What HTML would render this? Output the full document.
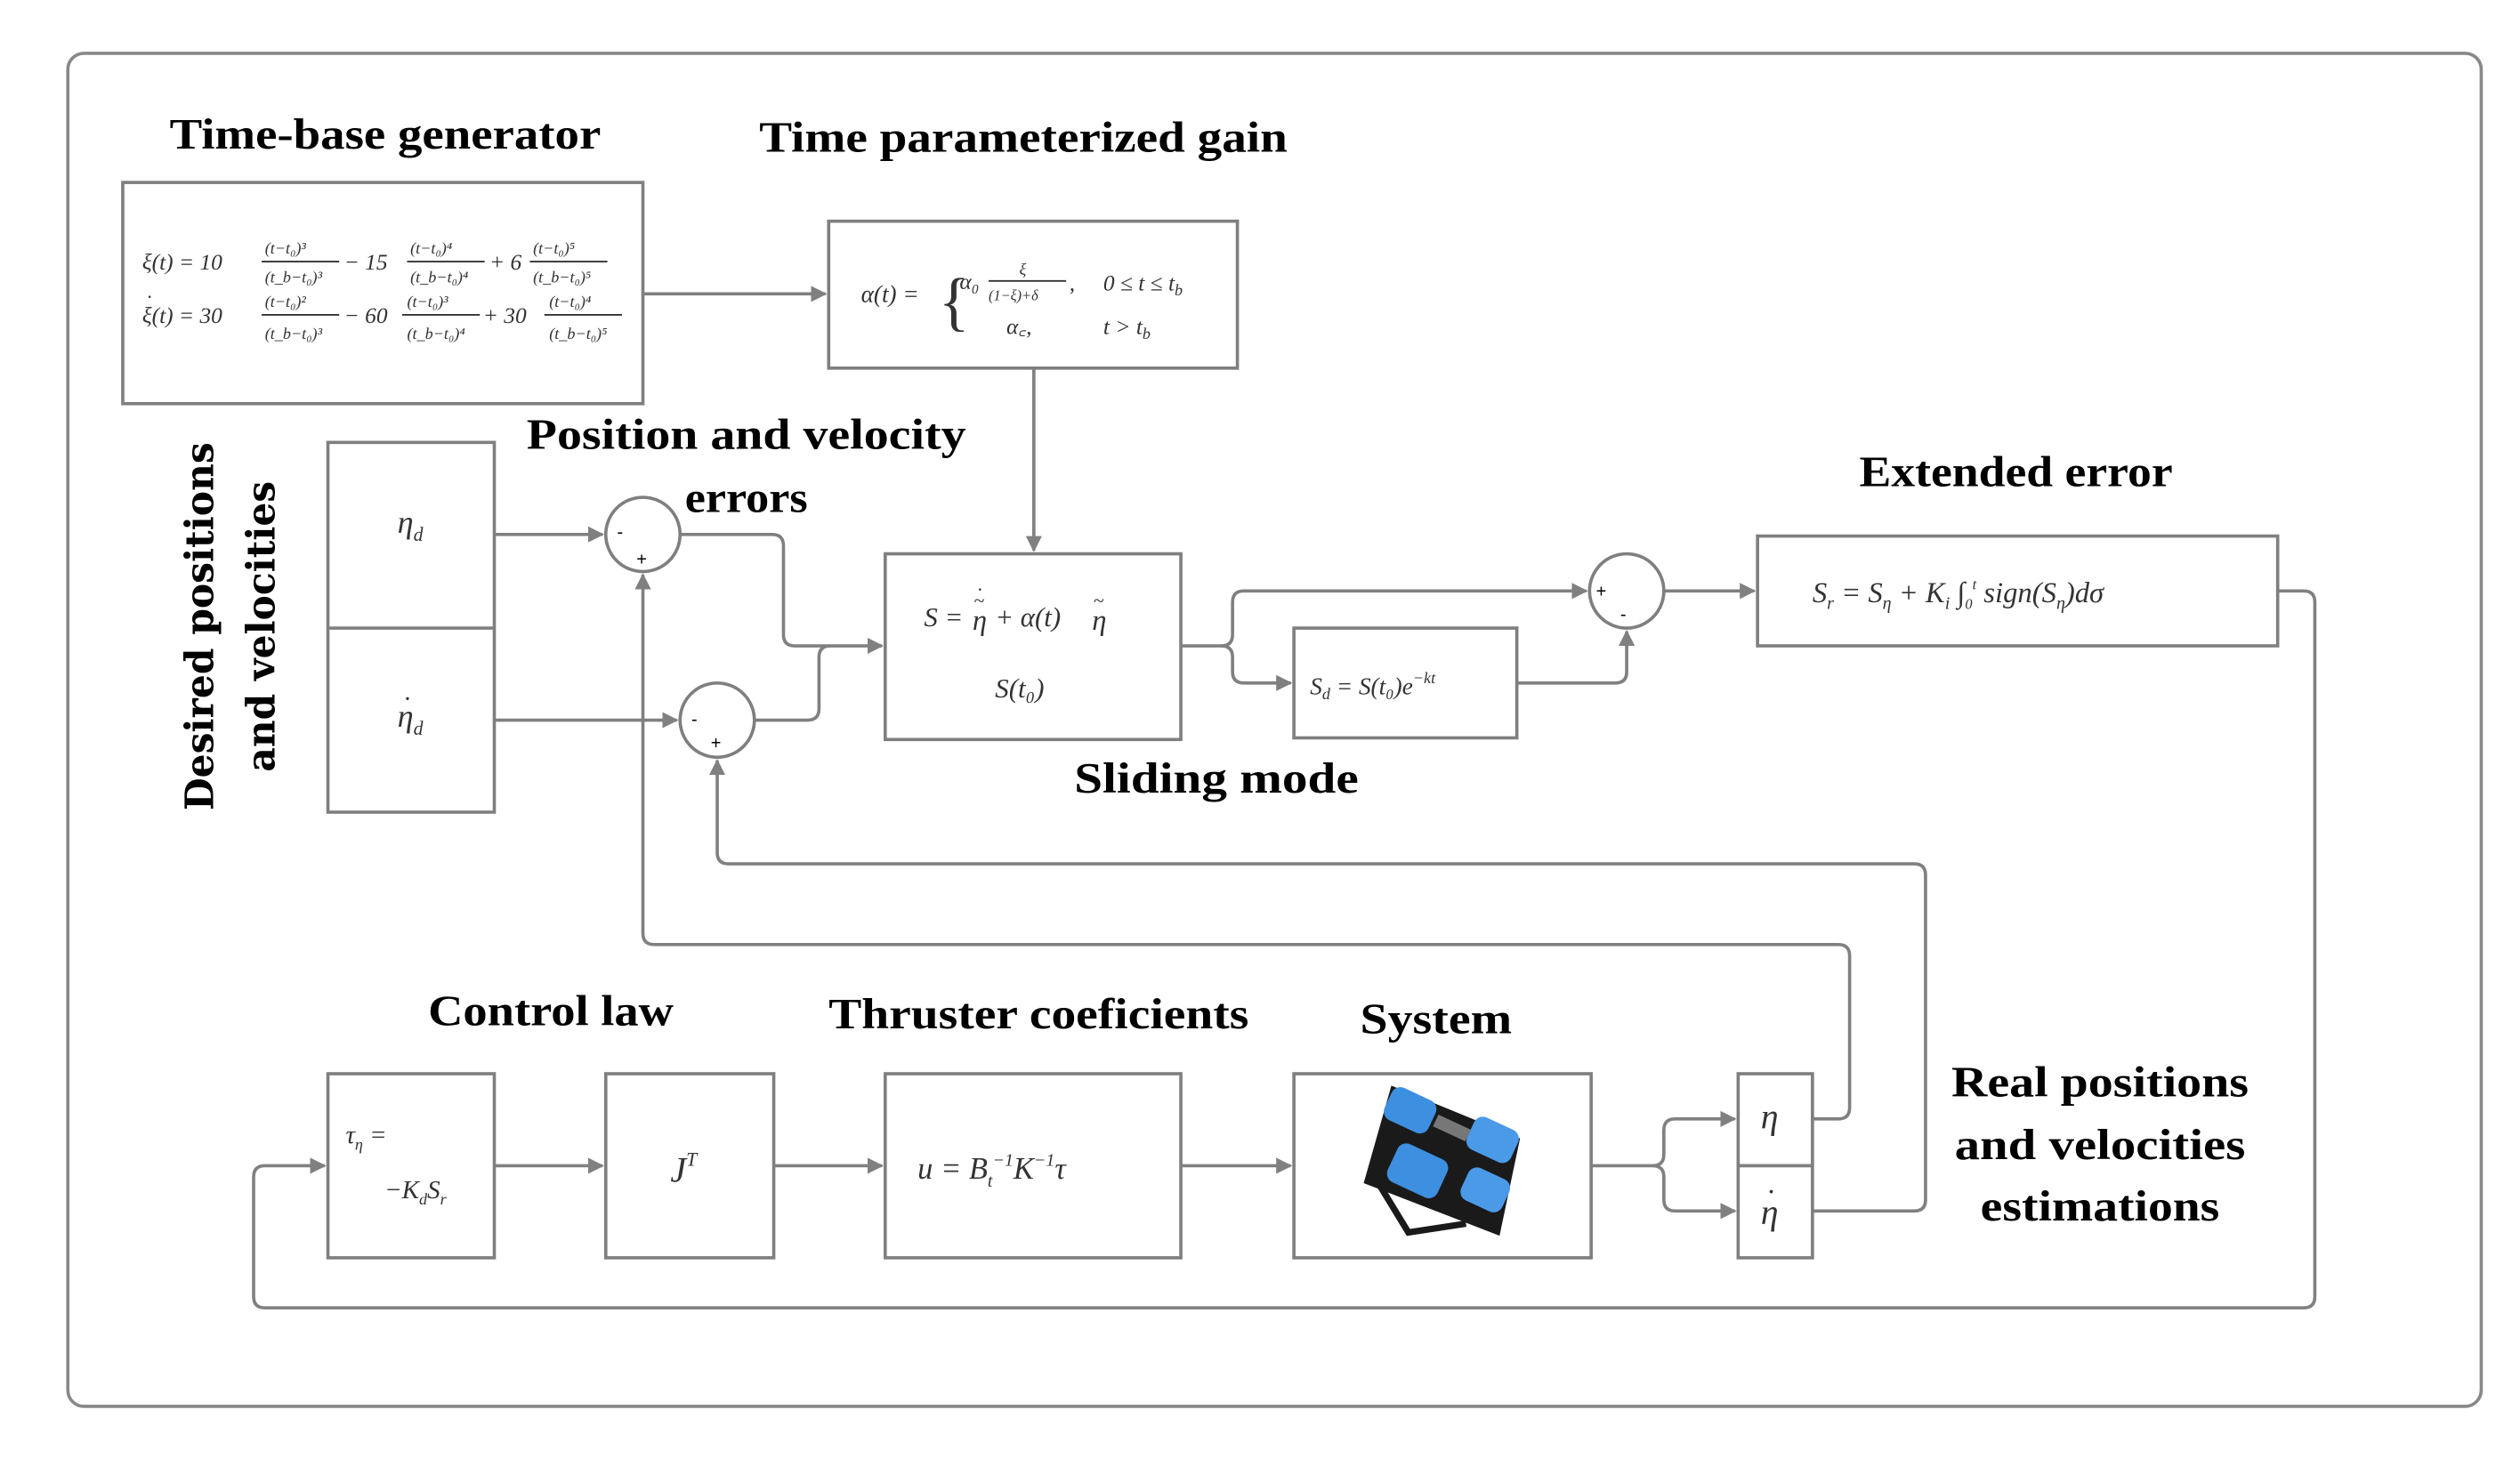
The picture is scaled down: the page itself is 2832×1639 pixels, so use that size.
<!DOCTYPE html>
<html><head><meta charset="utf-8"><style>
html,body{margin:0;padding:0;background:#fff}
svg{display:block}
.t{font-family:"Liberation Serif",serif;font-weight:bold;font-size:27px;fill:#000}
.m{font-family:"Liberation Serif",serif;font-style:italic;fill:#333}
.b{fill:#fff;stroke:#7f7f7f;stroke-width:2}
.l{fill:none;stroke:#808080;stroke-width:2}
.s{font-family:"Liberation Sans",sans-serif;font-size:11px;fill:#000}
</style></head><body>
<svg width="2832" height="1639" viewBox="0 0 1560 903" preserveAspectRatio="none" xmlns="http://www.w3.org/2000/svg">
<defs><marker id="a" markerWidth="10" markerHeight="10" refX="9" refY="5" orient="auto" markerUnits="userSpaceOnUse"><path d="M0,0 L10,5 L0,10 z" fill="#808080"/></marker></defs>
<rect x="42" y="33" width="1494" height="838" rx="10" fill="none" stroke="#888" stroke-width="2"/>

<text class="t" x="105" y="92" textLength="267" lengthAdjust="spacingAndGlyphs">Time-base generator</text>
<text class="t" x="470" y="94" textLength="327" lengthAdjust="spacingAndGlyphs">Time parameterized gain</text>
<text class="t" x="326" y="278" textLength="272" lengthAdjust="spacingAndGlyphs">Position and velocity</text>
<text class="t" x="424" y="317" textLength="76" lengthAdjust="spacingAndGlyphs">errors</text>
<text class="t" x="665" y="491" textLength="176" lengthAdjust="spacingAndGlyphs">Sliding mode</text>
<text class="t" x="1151" y="301" textLength="194" lengthAdjust="spacingAndGlyphs">Extended error</text>
<text class="t" x="265" y="635" textLength="152" lengthAdjust="spacingAndGlyphs">Control law</text>
<text class="t" x="513" y="637" textLength="260" lengthAdjust="spacingAndGlyphs">Thruster coeficients</text>
<text class="t" x="842" y="640" textLength="94" lengthAdjust="spacingAndGlyphs">System</text>
<text class="t" x="1208" y="679" textLength="184" lengthAdjust="spacingAndGlyphs">Real positions</text>
<text class="t" x="1210" y="718" textLength="180" lengthAdjust="spacingAndGlyphs">and velocities</text>
<text class="t" x="1226" y="756" textLength="148" lengthAdjust="spacingAndGlyphs">estimations</text>
<g transform="translate(132,388) rotate(-90)"><text x="0" y="0" text-anchor="middle" style="font-family:'DejaVu Serif',serif;font-weight:bold;font-size:24px" textLength="228" lengthAdjust="spacingAndGlyphs">Desired positions</text></g>
<g transform="translate(170,388) rotate(-90)"><text x="0" y="0" text-anchor="middle" style="font-family:'DejaVu Serif',serif;font-weight:bold;font-size:24px" textLength="180" lengthAdjust="spacingAndGlyphs">and velocities</text></g>

<rect class="b" x="76" y="113" width="322" height="137"/>
<rect class="b" x="513" y="137" width="253" height="91"/>
<rect class="b" x="203" y="274" width="103" height="229"/>
<line class="l" x1="203" y1="389" x2="306" y2="389"/>
<rect class="b" x="548" y="343" width="183" height="115"/>
<rect class="b" x="801" y="389" width="138" height="68"/>
<rect class="b" x="1088" y="332" width="322" height="68"/>
<rect class="b" x="203" y="665" width="103" height="114"/>
<rect class="b" x="375" y="665" width="104" height="114"/>
<rect class="b" x="548" y="665" width="183" height="114"/>
<rect class="b" x="801" y="665" width="184" height="114"/>
<rect class="b" x="1076" y="665" width="46" height="57"/>
<rect class="b" x="1076" y="722" width="46" height="57"/>
<circle class="b" cx="398" cy="331" r="23"/>
<circle class="b" cx="444" cy="446" r="23"/>
<circle class="b" cx="1007" cy="366" r="23"/>
<text class="s" x="382" y="333">-</text><text class="s" x="394" y="350">+</text>
<text class="s" x="428" y="449">-</text><text class="s" x="440" y="464">+</text>
<text class="s" x="988" y="370">+</text><text class="s" x="1003" y="384">-</text>

<line class="l" x1="398" y1="182" x2="511" y2="182" marker-end="url(#a)"/>
<line class="l" x1="640" y1="228" x2="640" y2="341" marker-end="url(#a)"/>
<line class="l" x1="306" y1="331" x2="373" y2="331" marker-end="url(#a)"/>
<line class="l" x1="306" y1="446" x2="419" y2="446" marker-end="url(#a)"/>
<path class="l" d="M421,331 H478 Q485,331 485,338 V393 Q485,400 492,400 H546" marker-end="url(#a)"/>
<path class="l" d="M467,446 H500 Q507,446 507,439 V407 Q507,400 514,400"/>
<path class="l" d="M731,400 H756 Q763,400 763,393 V373 Q763,366 770,366 H982" marker-end="url(#a)"/>
<path class="l" d="M756,400 Q763,400 763,407 V416 Q763,423 770,423 H799" marker-end="url(#a)"/>
<path class="l" d="M939,423 H1000 Q1007,423 1007,416 V391" marker-end="url(#a)"/>
<line class="l" x1="1030" y1="366" x2="1086" y2="366" marker-end="url(#a)"/>
<path class="l" d="M1410,366 H1426 Q1433,366 1433,373 V803 Q1433,810 1426,810 H164 Q157,810 157,803 V729 Q157,722 164,722 H201" marker-end="url(#a)"/>
<line class="l" x1="306" y1="722" x2="373" y2="722" marker-end="url(#a)"/>
<line class="l" x1="479" y1="722" x2="546" y2="722" marker-end="url(#a)"/>
<line class="l" x1="731" y1="722" x2="799" y2="722" marker-end="url(#a)"/>
<path class="l" d="M985,722 H1023 Q1030,722 1030,715 V700 Q1030,693 1037,693 H1074" marker-end="url(#a)"/>
<path class="l" d="M1023,722 Q1030,722 1030,729 V743 Q1030,750 1037,750 H1074" marker-end="url(#a)"/>
<path class="l" d="M1122,693 H1138 Q1145,693 1145,686 V592 Q1145,585 1138,585 H405 Q398,585 398,578 V356" marker-end="url(#a)"/>
<path class="l" d="M1122,750 H1185 Q1192,750 1192,743 V542 Q1192,535 1185,535 H451 Q444,535 444,528 V471" marker-end="url(#a)"/>

<g class="m" font-size="14">
<text x="88" y="167">ξ(t) = 10</text><text x="88" y="200">ξ(t) = 30</text><text x="91" y="188" font-size="12">·</text>
<g font-size="10">
<text x="164" y="157">(t−t₀)³</text><line x1="162" y1="162" x2="210" y2="162" stroke="#333"/><text x="164" y="175">(t_b−t₀)³</text>
<text x="213" y="167" font-size="14">− 15</text>
<text x="254" y="157">(t−t₀)⁴</text><line x1="252" y1="162" x2="300" y2="162" stroke="#333"/><text x="254" y="175">(t_b−t₀)⁴</text>
<text x="303" y="167" font-size="14">+ 6</text>
<text x="330" y="157">(t−t₀)⁵</text><line x1="328" y1="162" x2="376" y2="162" stroke="#333"/><text x="330" y="175">(t_b−t₀)⁵</text>
<text x="164" y="190">(t−t₀)²</text><line x1="162" y1="195" x2="210" y2="195" stroke="#333"/><text x="164" y="210">(t_b−t₀)³</text>
<text x="213" y="200" font-size="14">− 60</text>
<text x="252" y="190">(t−t₀)³</text><line x1="249" y1="195" x2="297" y2="195" stroke="#333"/><text x="252" y="210">(t_b−t₀)⁴</text>
<text x="299" y="200" font-size="14">+ 30</text>
<text x="340" y="190">(t−t₀)⁴</text><line x1="337" y1="195" x2="385" y2="195" stroke="#333"/><text x="340" y="210">(t_b−t₀)⁵</text>
</g>
<text x="533" y="187" font-size="15">α(t) =</text>
<text x="581" y="200" font-size="40" font-style="normal">{</text>
<text x="594" y="179">α₀</text><text x="631" y="170" font-size="10">ξ</text><line x1="612" y1="174" x2="660" y2="174" stroke="#333"/><text x="612" y="186" font-size="9">(1−ξ)+δ</text><text x="662" y="180">,</text>
<text x="623" y="207">α꜀,</text>
<text x="683" y="180">0 ≤ t ≤ t<tspan font-size="10" dy="3">b</tspan></text><text x="683" y="207">t &gt; t<tspan font-size="10" dy="3">b</tspan></text>
<text x="572" y="388" font-size="17">S =</text>
<text x="602" y="390" font-size="18">η</text>
<text x="603" y="376" font-size="12" font-style="normal">~</text>
<text x="605" y="369" font-size="12">·</text>
<text x="616" y="388" font-size="17">+ α(t)</text>
<text x="676" y="390" font-size="18">η</text>
<text x="677" y="376" font-size="12" font-style="normal">~</text>
<text x="616" y="432" font-size="17">S(t₀)</text>
<text x="246" y="330" font-size="20">η<tspan font-size="12" dy="5">d</tspan></text>
<text x="246" y="450" font-size="20">η<tspan font-size="12" dy="5">d</tspan></text><text x="250" y="438" font-size="16">·</text>
<text x="811" y="430" font-size="15">S<tspan font-size="10" dy="3">d</tspan><tspan dy="-3"> = S(t₀)e</tspan><tspan font-size="10" dy="-7">−kt</tspan></text>
<text x="1122" y="373" font-size="18">S<tspan font-size="11" dy="4">r</tspan><tspan dy="-4"> = S</tspan><tspan font-size="11" dy="4">η</tspan><tspan dy="-4"> + K</tspan><tspan font-size="11" dy="4">i</tspan><tspan dy="-4"> ∫</tspan><tspan font-size="9" dy="4">0</tspan><tspan font-size="9" dy="-12">t</tspan><tspan dy="8"> sign(S</tspan><tspan font-size="11" dy="4">η</tspan><tspan dy="-4">)dσ</tspan></text>
<text x="214" y="708" font-size="16">τ<tspan font-size="10" dy="4">η</tspan><tspan dy="-4"> =</tspan></text>
<text x="238" y="742" font-size="16">−K<tspan font-size="10" dy="4">d</tspan><tspan dy="-4">S</tspan><tspan font-size="10" dy="4">r</tspan></text>
<text x="415" y="732" font-size="22">J<tspan font-size="12" dy="-10">T</tspan></text>
<text x="568" y="730" font-size="19">u = B<tspan font-size="11" dy="5">t</tspan><tspan font-size="11" dy="-13">−1</tspan><tspan dy="8">K</tspan><tspan font-size="11" dy="-8">−1</tspan><tspan dy="8">τ</tspan></text>
<text x="1090" y="699" font-size="22">η</text>
<text x="1090" y="758" font-size="22">η</text><text x="1094" y="744" font-size="18">·</text>
</g>

<g transform="translate(893,718) rotate(25)">
<path d="M-48,-28 L38,-32 L52,28 L-38,34 Z" fill="#1a1a1a"/>
<path d="M-30,30 L0,50 L30,30" fill="none" stroke="#1a1a1a" stroke-width="4"/>
<rect x="-46" y="-30" width="30" height="22" rx="6" fill="#3d8fe0"/>
<rect x="8" y="-35" width="30" height="22" rx="6" fill="#4a9ae8"/>
<rect x="-28" y="0" width="34" height="26" rx="6" fill="#3d8fe0"/>
<rect x="18" y="-5" width="28" height="22" rx="6" fill="#4a9ae8"/>
<rect x="-14" y="-24" width="22" height="8" fill="#777"/>
</g>
</svg>
</body></html>
